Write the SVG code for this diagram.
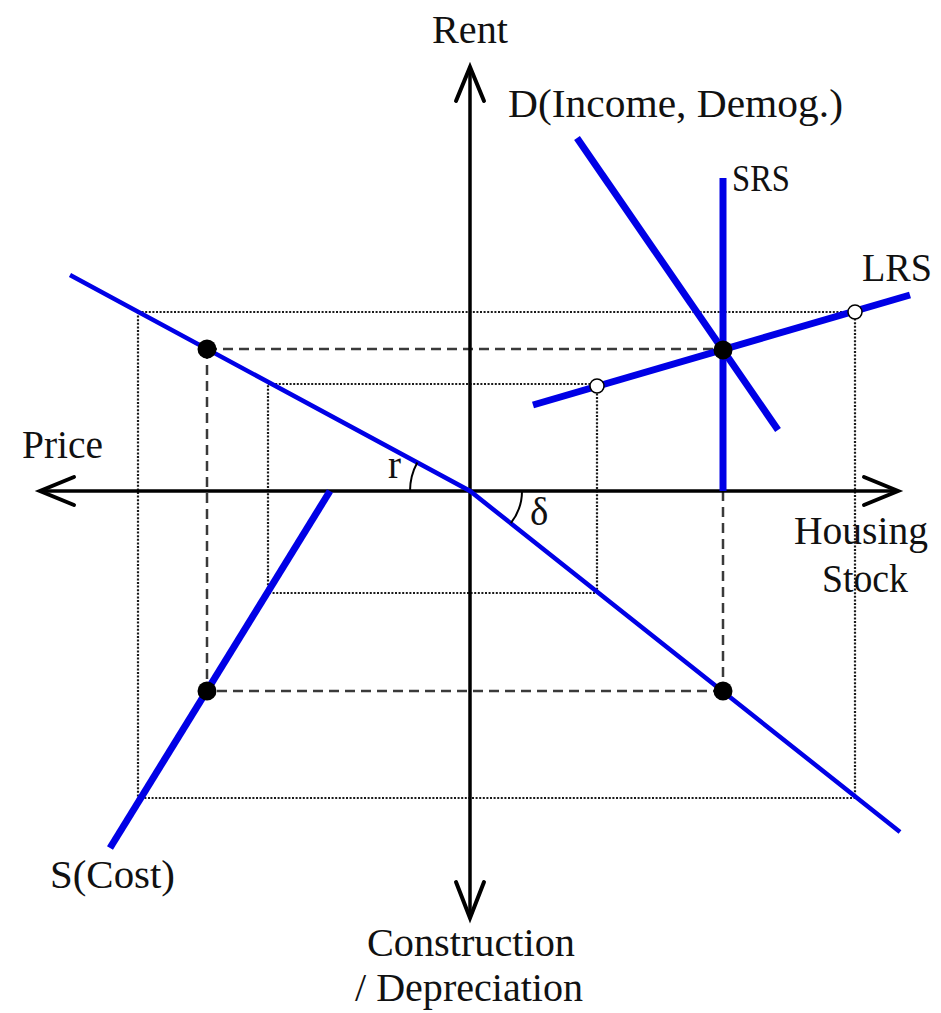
<svg xmlns="http://www.w3.org/2000/svg" width="941" height="1013" viewBox="0 0 941 1013">
<style>
.lbl{font-family:"Liberation Serif","Times New Roman",serif;font-size:39px;fill:#111}
.axis{stroke:#000;stroke-width:3.5;fill:none}
.ah{stroke:#000;stroke-width:4;fill:none;stroke-linecap:round;stroke-linejoin:miter}
.thin{stroke:#0000e6;stroke-width:4.5;fill:none}
.thick{stroke:#0000e6;stroke-width:7;fill:none}
.dash{stroke:#3a3a3a;stroke-width:2.5;stroke-dasharray:10,6;fill:none}
.dot{stroke:#1a1a1a;stroke-width:2.2;stroke-dasharray:2,1.6;fill:none}
.arc{stroke:#000;stroke-width:2;fill:none}
</style>
<rect width="941" height="1013" fill="#fff"/>
<g id="guides">
<path class="dot" d="M138,312H855V798H140M138,312V800"/>
<path class="dot" d="M268,384H597V593H268V384"/>
<path class="dash" d="M207,349H723M207,349V691H723M723,491V691"/>
</g>
<g id="axes">
<path class="axis" d="M470,68V918"/>
<path class="axis" d="M40,491H898"/>
<path class="ah" d="M456,101L470,67L484,101"/>
<path class="ah" d="M456,882L470,918L484,882"/>
<path class="ah" d="M74,477L40,491L74,505"/>
<path class="ah" d="M864,477L898,491L864,505"/>
</g>
<g id="connectors">
<path class="thin" d="M70,275L470,491L900,832"/>
<path class="thick" d="M723,178V491"/>
<path class="thick" d="M533,405L910,295"/>
<path class="thick" d="M577,138L778,430"/>
<path class="thick" d="M330,491L110,848"/>
<path class="arc" d="M410,491A60,60 0 0 1 417.3,462.4"/>
<path class="arc" d="M522,491A52,52 0 0 1 510.8,523.2"/>
</g>
<g id="points">
<circle cx="207" cy="349" r="9.5" fill="#000"/>
<circle cx="723" cy="350" r="9.5" fill="#000"/>
<circle cx="207" cy="691" r="9.5" fill="#000"/>
<circle cx="723" cy="691" r="9.5" fill="#000"/>
<circle cx="597" cy="386" r="7" fill="#fff" stroke="#000" stroke-width="1.5"/>
<circle cx="855" cy="312" r="7" fill="#fff" stroke="#000" stroke-width="1.5"/>
</g>
<g id="labels">
<text class="lbl" x="432" y="43" textLength="76" lengthAdjust="spacingAndGlyphs">Rent</text>
<text class="lbl" x="508" y="117" textLength="335" lengthAdjust="spacingAndGlyphs">D(Income, Demog.)</text>
<text class="lbl" x="732" y="191" style="font-size:37px" textLength="58" lengthAdjust="spacingAndGlyphs">SRS</text>
<text class="lbl" x="862" y="281" textLength="70" lengthAdjust="spacingAndGlyphs">LRS</text>
<text class="lbl" x="22" y="458" textLength="81" lengthAdjust="spacingAndGlyphs">Price</text>
<text class="lbl" x="388" y="478">r</text>
<text class="lbl" x="530" y="525">δ</text>
<text class="lbl" x="794" y="544" textLength="134" lengthAdjust="spacingAndGlyphs">Housing</text>
<text class="lbl" x="822" y="592" textLength="86" lengthAdjust="spacingAndGlyphs">Stock</text>
<text class="lbl" x="50" y="888" textLength="125" lengthAdjust="spacingAndGlyphs">S(Cost)</text>
<text class="lbl" x="367" y="956" textLength="208" lengthAdjust="spacingAndGlyphs">Construction</text>
<text class="lbl" x="355" y="1001" textLength="228" lengthAdjust="spacingAndGlyphs">/ Depreciation</text>
</g>
</svg>
